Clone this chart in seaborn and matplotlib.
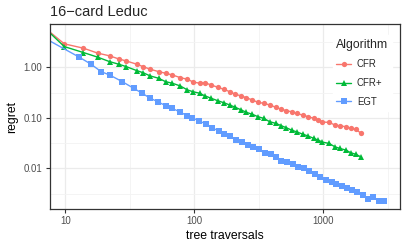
import matplotlib
matplotlib.use("Agg")
import matplotlib.pyplot as plt
import matplotlib.ticker as mticker
import seaborn as sns
import pandas as pd

# tree traversals (CFR and CFR+ share the same sampling)
x_cfr = [7, 9.8, 13.8, 17.8, 22.0, 25.9, 29.6, 35.8, 39.9, 45.5, 52.8, 59.8, 67.5, 77.8, 88.3,
         97.5, 110, 120, 135, 152, 169, 188, 208, 232, 253, 282, 312, 345, 385, 428, 474, 518,
         567, 620, 691, 764, 846, 913, 984, 1111, 1231, 1346, 1499, 1638, 1782, 1960]
regret_cfr = [5.85, 2.90, 2.38, 1.90, 1.68, 1.46, 1.33, 1.147, 1.028, 0.913, 0.818, 0.760, 0.703,
              0.622, 0.578, 0.511, 0.482, 0.495, 0.445, 0.401, 0.366, 0.328, 0.291, 0.270, 0.249,
              0.224, 0.202, 0.193, 0.179, 0.161, 0.147, 0.138, 0.1315, 0.122, 0.113, 0.1047,
              0.0973, 0.090, 0.0822, 0.0811, 0.0716, 0.0694, 0.0663, 0.0616, 0.0588, 0.0497]
regret_cfrplus = [5.78, 2.56, 1.95, 1.58, 1.29, 1.147, 1.028, 0.856, 0.781, 0.672, 0.605, 0.518,
                  0.482, 0.426, 0.355, 0.328, 0.305, 0.273, 0.243, 0.217, 0.1985, 0.179, 0.161,
                  0.142, 0.128, 0.117, 0.1047, 0.0973, 0.0833, 0.0774, 0.0694, 0.0633, 0.0570,
                  0.0527, 0.0475, 0.0434, 0.0390, 0.0361, 0.0330, 0.0310, 0.0266, 0.0247, 0.0229,
                  0.0202, 0.0190, 0.0168]
x_egt = [7, 12.8, 15.8, 18.9, 22.0, 27.6, 33.8, 39.4, 45.5, 52.1, 60.5, 67.0, 76.9, 87.1, 96.4,
         109, 124, 138, 154.5, 170, 188, 212, 234, 261, 285, 318, 352, 390, 428, 474, 525, 577,
         638, 703, 777, 860, 941, 1054, 1167, 1262, 1387, 1525, 1677, 1833, 2018, 2232, 2449,
         2703, 2971]
regret_egt = [3.69, 1.58, 1.147, 0.818, 0.703, 0.518, 0.383, 0.305, 0.243, 0.2076, 0.1706, 0.1537,
              0.1315, 0.1106, 0.100, 0.0860, 0.0750, 0.0633, 0.0545, 0.0475, 0.0434, 0.0361,
              0.0334, 0.0287, 0.0266, 0.0236, 0.0197, 0.0188, 0.0164, 0.0138, 0.0134, 0.0121,
              0.01066, 0.00991, 0.00883, 0.00774, 0.00675, 0.00591, 0.00535, 0.00492, 0.00442,
              0.00403, 0.00373, 0.00336, 0.00297, 0.00252, 0.00266, 0.00225, 0.00225]

algorithms = ["CFR", "CFR+", "EGT"]
x_ticks = [10, 100, 1000]
y_ticks = [0.01, 0.1, 1]
y_ticklabels = ["0.01", "0.10", "1.00"]

df = pd.concat([
    pd.DataFrame({"traversals": x_cfr, "regret": regret_cfr, "Algorithm": "CFR"}),
    pd.DataFrame({"traversals": x_cfr, "regret": regret_cfrplus, "Algorithm": "CFR+"}),
    pd.DataFrame({"traversals": x_egt, "regret": regret_egt, "Algorithm": "EGT"}),
], ignore_index=True)

sns.set_style("white")
plt.rcParams["font.family"] = ["Liberation Sans", "DejaVu Sans"]

fig = plt.figure(figsize=(4.07, 2.44), dpi=100)
ax = fig.add_axes([49.5 / 407, 1 - 209.3 / 244, 350.5 / 407, (209.3 - 24.3) / 244])

pal = {"CFR": "#F8766D", "CFR+": "#00BA38", "EGT": "#619CFF"}
sns.lineplot(data=df, x="traversals", y="regret", hue="Algorithm", style="Algorithm",
             hue_order=algorithms, style_order=algorithms, palette=pal,
             markers={"CFR": "o", "CFR+": "^", "EGT": "s"}, dashes=False,
             markersize=3.8, markeredgewidth=0, linewidth=1.0, ax=ax, sort=False)

ax.set_xscale("log")
ax.set_yscale("log")
ax.set_xlim(7.52, 3936)
ax.set_ylim(0.001544, 7.07)

ax.xaxis.set_major_locator(mticker.FixedLocator(x_ticks))
ax.xaxis.set_major_formatter(mticker.FixedFormatter([str(t) for t in x_ticks]))
ax.xaxis.set_minor_locator(mticker.FixedLocator([31.62, 316.2, 3162]))
ax.xaxis.set_minor_formatter(mticker.NullFormatter())
ax.yaxis.set_major_locator(mticker.FixedLocator(y_ticks))
ax.yaxis.set_major_formatter(mticker.FixedFormatter(y_ticklabels))
ax.yaxis.set_minor_locator(mticker.FixedLocator([0.00316, 0.0316, 0.316, 3.16]))
ax.yaxis.set_minor_formatter(mticker.NullFormatter())

ax.grid(True, which="major", color="#ebebeb", linewidth=0.9)
ax.grid(True, which="minor", color="#f3f3f3", linewidth=0.6)
ax.set_axisbelow(True)
ax.tick_params(which="major", direction="out", length=3, width=0.8, color="#333333",
               labelsize=6.9, labelcolor="#4d4d4d", pad=2, bottom=True, left=True)
ax.tick_params(which="minor", length=0)
for s in ax.spines.values():
    s.set_color("#333333")
    s.set_linewidth(0.9)

ax.set_xlabel("tree traversals", fontsize=8.8, color="black", labelpad=3)
ax.set_ylabel("regret", fontsize=8.8, color="black", labelpad=4)
fig.text(50 / 407, 1 - 12.5 / 244, "16\u2212card Leduc", fontsize=10.5, ha="left", va="center")

handles, labels = ax.get_legend_handles_labels()
leg = ax.legend(handles, labels, title="Algorithm", loc="upper left",
                bbox_to_anchor=(332.5 / 407, 1 - 35 / 244), bbox_transform=fig.transFigure,
                fontsize=6.9, title_fontsize=8.8, frameon=True, fancybox=False,
                framealpha=1, edgecolor="white", handlelength=1.55, handletextpad=0.6,
                labelspacing=0.9, borderpad=0.4, borderaxespad=0)
leg._legend_box.align = "left"

fig.savefig("out.png", dpi=100)
